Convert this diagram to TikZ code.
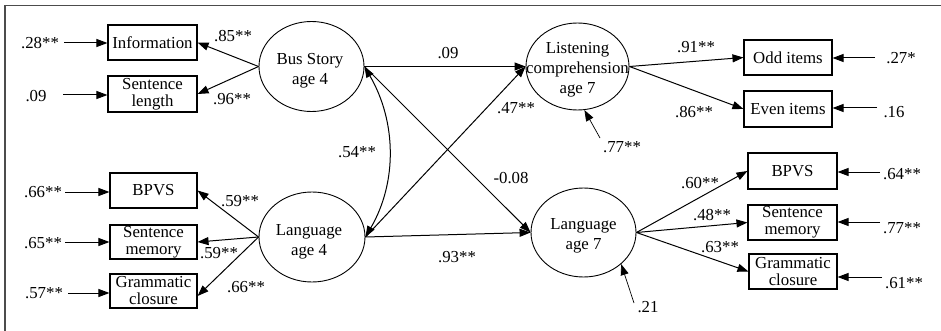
\documentclass[tikz,border=0pt]{standalone}
\usepackage{fontspec}
\setmainfont{Liberation Serif}
\usetikzlibrary{arrows.meta,calc,shapes.geometric}
\begin{document}
\begin{tikzpicture}[x=1pt,y=-1pt,
  obs/.style={draw, line width=1.1pt, inner sep=0pt, align=center, font=\fontsize{16.8}{17}\selectfont},
  lat/.style={draw, ellipse, line width=0.9pt, inner sep=0pt},
  lattext/.style={align=center, inner sep=0pt, font=\fontsize{16.8}{20}\selectfont},
  num/.style={inner sep=0pt, font=\fontsize{16.8}{20}\selectfont},
  arr/.style={-{Triangle[length=11pt,width=8pt]}, line width=1pt},
  darr/.style={{Triangle[length=11pt,width=8pt]}-{Triangle[length=11pt,width=8pt]}, line width=1pt},
]
\useasboundingbox (0,0) rectangle (941,331);
\draw[line width=1.8pt, black!70] (941,5.5) -- (5,5.5) -- (5,331);

% latent variables
\node[lat, minimum width=105pt, minimum height=90pt] (bus) at (311.5,66.5) {};
\node[lattext] (bus-t) at (310,70.5) {Bus Story\\age 4};
\node[lat, minimum width=106pt, minimum height=90pt] (lang4) at (312,237) {};
\node[lattext] (lang4-t) at (309,242) {Language\\age 4};
\node[lat, minimum width=103pt, minimum height=87pt] (listen) at (577.5,66.5) {};
\node[lattext] (listen-t) at (577.5,70) {Listening\\comprehension\\age 7};
\node[lat, minimum width=105pt, minimum height=89pt] (lang7) at (583.5,232.5) {};
\node[lattext] (lang7-t) at (583.5,236) {Language\\age 7};

% observed, left
\node[obs, minimum width=89pt, minimum height=35pt] (info) at (152.5,42.5) {Information};
\node[obs, minimum width=89pt, minimum height=36pt] (slen) at (152.5,94) {Sentence\\length};
\node[obs, minimum width=87pt, minimum height=35pt] (bpvsL) at (153.5,190.5) {BPVS};
\node[obs, minimum width=87pt, minimum height=34pt] (smL) at (153.5,242) {Sentence\\memory};
\node[obs, minimum width=87pt, minimum height=34pt] (gcL) at (153.5,291) {Grammatic\\closure};

% observed, right
\node[obs, minimum width=88pt, minimum height=35pt] (odd) at (788,57.5) {Odd items};
\node[obs, minimum width=88pt, minimum height=36pt] (even) at (788,109) {Even items};
\node[obs, minimum width=89pt, minimum height=36pt] (bpvsR) at (792.5,171) {BPVS};
\node[obs, minimum width=89pt, minimum height=35pt] (smR) at (792.5,222.5) {Sentence\\memory};
\node[obs, minimum width=88pt, minimum height=35pt] (gcR) at (793,271.5) {Grammatic\\closure};

% error terms, left
\node[num] (n28) at (40,43) {.28**};
\node[num] (n09) at (36,96) {.09};
\node[num] (n66) at (43,192) {.66**};
\node[num] (n65) at (43,243) {.65**};
\node[num] (n57) at (44,293) {.57**};
\coordinate (s28) at (64,43);
\coordinate (s09) at (63,95);
\coordinate (s66) at (65,192);
\coordinate (s65) at (65,242);
\coordinate (s57) at (68,293);
\draw[arr] (s28) -- (s28 -| info.west);
\draw[arr] (s09) -- (s09 -| slen.west);
\draw[arr] (s66) -- (s66 -| bpvsL.west);
\draw[arr] (s65) -- (s65 -| smL.west);
\draw[arr] (s57) -- (s57 -| gcL.west);

% error terms, right
\node[num] (n27) at (901,58) {.27*};
\node[num] (n16) at (894,112) {.16};
\node[num] (n64) at (902,174) {.64**};
\node[num] (n77b) at (902,228) {.77**};
\node[num] (n61) at (904,283) {.61**};
\coordinate (s27) at (875,58);
\coordinate (s16) at (877,108);
\coordinate (s64) at (880,172);
\coordinate (s77b) at (880,222);
\coordinate (s61) at (882,277);
\draw[arr] (s27) -- (s27 -| odd.east);
\draw[arr] (s16) -- (s16 -| even.east);
\draw[arr] (s64) -- (s64 -| bpvsR.east);
\draw[arr] (s77b) -- (s77b -| smR.east);
\draw[arr] (s61) -- (s61 -| gcR.east);

% loadings
\draw[arr] (bus.west) -- (info.east);
\draw[arr] (bus.west) -- (slen.east);
\node[num] (l85) at (233,36) {.85**};
\node[num] (l96) at (232,99) {.96**};
\draw[arr] (lang4.west) -- (bpvsL.east);
\draw[arr] (lang4.west) -- (smL.east);
\draw[arr] (lang4.west) -- ($(gcL.east)+(0,5)$);
\node[num] (l59a) at (240,201) {.59**};
\node[num] (l59b) at (219,253) {.59**};
\node[num] (l66) at (246,287) {.66**};
\draw[arr] (listen.east) -- (odd.west);
\draw[arr] (listen.east) -- (even.west);
\node[num] (l91) at (696,47) {.91**};
\node[num] (l86) at (694,112) {.86**};
\draw[arr] (lang7.east) -- (bpvsR.west);
\draw[arr] (lang7.east) -- (smR.west);
\draw[arr] (lang7.east) -- (gcR.west);
\node[num] (l60) at (700,183) {.60**};
\node[num] (l48) at (712,215) {.48**};
\node[num] (l63) at (720,247) {.63**};

% structural paths
\draw[arr] (bus.east) -- (listen.west);
\draw[arr] (lang4.east) -- (listen.west);
\draw[arr] (bus.east) -- (lang7.west);
\draw[arr] (lang4.east) -- (lang7.west);
\draw[darr] (bus.east) .. controls +(32,55) and +(32,-55) .. (lang4.east);
\node[num] (p09) at (448,53) {.09};
\node[num] (p47) at (516,108) {.47**};
\node[num] (p08) at (511,178) {-0.08};
\node[num] (p93) at (457,257) {.93**};
\node[num] (p54) at (357,152) {.54**};

% residuals
\coordinate (r77) at (600,138);
\coordinate (r21) at (634,303);
\draw[arr, line width=0.7pt] (r77) -- (listen.-81);
\draw[arr, line width=0.7pt] (r21) -- (lang7.-40);
\node[num] (n77) at (622,147) {.77**};
\node[num] (n21) at (648,307) {.21};
\end{tikzpicture}
\end{document}
